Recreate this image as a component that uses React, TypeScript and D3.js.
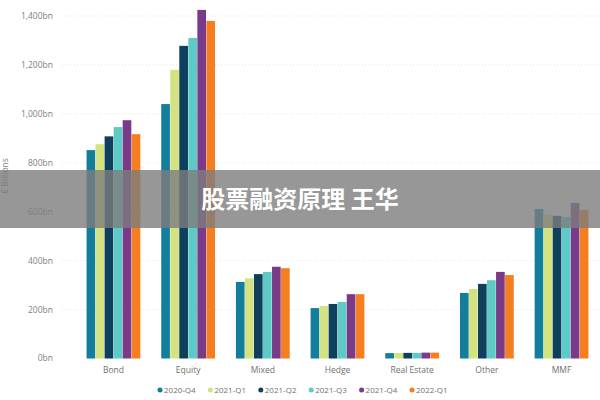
import * as d3 from "d3";

const categories = ["Bond", "Equity", "Mixed", "Hedge", "Real Estate", "Other", "MMF"];
const seriesNames = ["2020-Q4", "2021-Q1", "2021-Q2", "2021-Q3", "2021-Q4", "2022-Q1"];
const colors = ["#127E9B", "#D3E381", "#0E3F5C", "#5ECAC6", "#7A3A8A", "#F57E20"];

// € billions per category, one array per quarter
const q2020Q4 = [852, 1040, 313, 206, 22, 268, 611];
const q2021Q1 = [876, 1180, 328, 215, 22, 284, 588];
const q2021Q2 = [908, 1278, 345, 223, 23, 305, 583];
const q2021Q3 = [946, 1310, 354, 231, 23, 320, 579];
const q2021Q4 = [974, 1425, 375, 263, 24, 354, 636];
const q2022Q1 = [917, 1380, 369, 263, 24, 341, 607];
const series = [q2020Q4, q2021Q1, q2021Q2, q2021Q3, q2021Q4, q2022Q1];

const yTicks = [0, 200, 400, 600, 800, 1000, 1200, 1400];

const W = 600;
const H = 400;
const font = "'Open Sans', 'DejaVu Sans', sans-serif";

export default function App() {
  const x = d3.scaleBand<string>().domain(categories).range([75, 600]).paddingInner(0.27).paddingOuter(0.15);
  const xi = d3.scaleBand<string>().domain(seriesNames).range([0, x.bandwidth()]).padding(0.04);
  const y = d3.scaleLinear().domain([0, 1400]).range([358.5, 16]);

  // legend layout
  const legendX = d3.scalePoint<string>().domain(seriesNames).range([160, 412]);

  return (
    <svg
      width={W}
      height={H}
      style={{ position: "absolute", left: 0, top: 0, background: "#fff" }}
      fontFamily={font}
    >
      {/* 그리드 + y축 */}
      {yTicks.map((t) => (
        <g key={t}>
          {t > 0 && (
            <line
              x1={62}
              x2={600}
              y1={y(t)}
              y2={y(t)}
              stroke="#e6e6e6"
              strokeWidth={1}
              strokeDasharray="1,2"
            />
          )}
          <text x={53} y={y(t)} dy="0.35em" textAnchor="end" fontSize={8.5} fill="#808080">
            {t === 0 ? "0bn" : d3.format(",")(t) + "bn"}
          </text>
        </g>
      ))}
      <text
        transform={`translate(8,176) rotate(-90)`}
        textAnchor="middle"
        fontSize={8.5}
        fill="#808080"
      >
        € Billions
      </text>

      {/* 막대 */}
      {categories.map((c, ci) => (
        <g key={c} transform={`translate(${x(c)},0)`}>
          {series.map((s, si) => (
            <rect
              key={si}
              x={xi(seriesNames[si])}
              y={y(s[ci])}
              width={xi.bandwidth()}
              height={y(0) - y(s[ci])}
              fill={colors[si]}
            />
          ))}
          <text
            x={x.bandwidth() / 2}
            y={370}
            dy="0.35em"
            textAnchor="middle"
            fontSize={8.5}
            fill="#707070"
          >
            {c}
          </text>
        </g>
      ))}

      {/* 범례 */}
      {seriesNames.map((n, i) => (
        <g key={n} transform={`translate(${legendX(n)},390)`}>
          <circle cx={0} cy={0} r={2.5} fill={colors[i]} />
          <text x={4} y={0} dy="0.35em" fontSize={8} fill="#707070">
            {n}
          </text>
        </g>
      ))}

      {/* watermark band */}
      <rect x={0} y={170} width={W} height={58} fill="#7d7d7d" opacity={0.8} />
      <text
        x={300}
        y={200}
        dy="0.35em"
        textAnchor="middle"
        fontSize={24}
        fontWeight="bold"
        fill="#ffffff"
        fontFamily="'Noto Sans CJK SC', sans-serif"
      >
        股票融资原理 王华
      </text>
    </svg>
  );
}
